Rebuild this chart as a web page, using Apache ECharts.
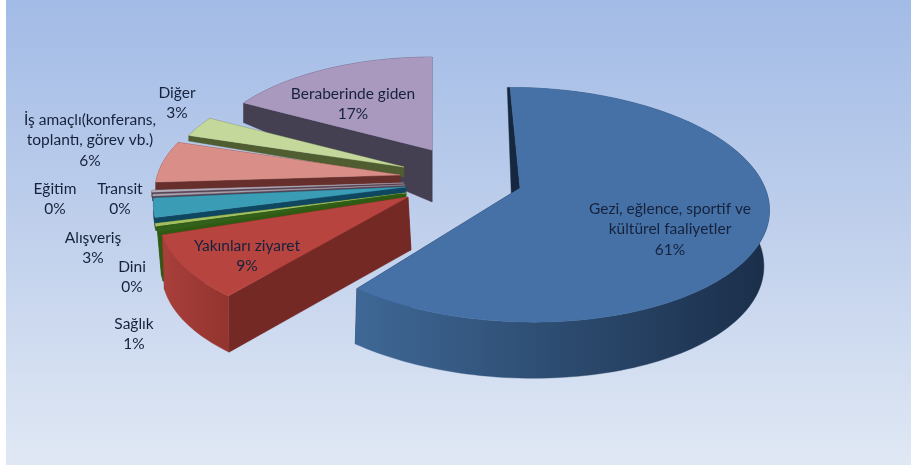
<!DOCTYPE html>
<html><head><meta charset="utf-8">
<style>html,body{margin:0;padding:0;background:#fff}#main{width:911px;height:470px;filter:blur(0.55px)}</style>
<script src="https://cdn.jsdelivr.net/npm/echarts@6/dist/echarts.min.js"></script>
</head><body><div id="main"></div>
<script>
// Data (clockwise from the top of the pie)
const categories = ['Gezi, eğlence, sportif ve\nkültürel faaliyetler','Yakınları ziyaret','Sağlık','Dini','Alışveriş','Transit','Eğitim','İş amaçlı(konferans,\ntoplantı, görev vb.)','Diğer','Beraberinde giden'];
const seriesValues = [60.8,9,0.7,0.4,2.6,0.25,0.25,5.9,3,17.1];

// Styling and projection of each slice
const topColors = ['#4571a7','#b7443f','#33601a','#a3bf62','#3b9cb6','#a9a3b2','#b3acb9','#d98f87','#c5d89c','#a999be'];
const wallColors = ['#16283f','#752925','#2e5a12','#2e5a12','#0f4660','#54404f','#54404f','#672f2c','#4f5d30','#453f52'];
const arcColors = [['#3f6896','#1a2e49'],['#a83f3b','#93342f'],['#2e5a12','#2e5a12'],['#2e5a12','#2e5a12'],['#0f4660','#0f4660'],['#54404f','#54404f'],['#54404f','#54404f'],['#672f2c','#672f2c'],['#4f5d30','#4f5d30'],['#453f52','#453f52']];
const apexX = [520,408,402,406,406,405,404,400,404,432];
const apexY = [188,197,194,193,187,185,183,175,167,150];
const radius = [0.995,0.98,0.98,1,1,1,1,0.97,0.94,0.91];
const depths = [52,53,48,4,8,5,5,8,10,52];
const wallShift = [-7,3,6,0,0,0,0,0,0,0];
const shear = [-11.4,8,0,0,0,0,0,0,0,0];
const radiusX = [0.985,1,1,1,1,1,1,1,1,1];
const labelX = [670,247,134,132,93,120,55,90,177,353];
const labelY = [229,256,334,277,248,199,199,140,103,104];
const RX = 250, RY = 115.5, P = 0.144;

const total = seriesValues.reduce((a,b)=>a+b,0);
const startAngle = [], endAngle = [];
seriesValues.reduce((acc,v,i)=>{startAngle[i]=acc/total*360;endAngle[i]=(acc+v)/total*360;return acc+v;},0);

function project(i,deg,rho){
  const t=deg*Math.PI/180, X=rho*radius[i]*radiusX[i]*Math.sin(t), Y=rho*radius[i]*Math.cos(t), s=1/(1+P*Y);
  return {x:apexX[i]+(RX*X+shear[i]*Y)*s, y:apexY[i]-RY*Y*s, Y};
}
function depthPoint(i,p){
  const D=depths[i], d=p.Y>0?D*Math.pow(1-p.Y,1.7):D*(1-0.08*p.Y);
  const k=p.Y>0?1-0.6*p.Y:1+p.Y;
  return [p.x+wallShift[i]*k, p.y+d];
}
function arc(i){
  const pts=[], a=startAngle[i], b=endAngle[i], n=Math.max(2,Math.ceil((b-a)/1.5));
  for(let k=0;k<=n;k++) pts.push(project(i,a+(b-a)*k/n,1));
  return pts;
}
function radialWall(i,deg){
  const o=project(i,0,0), e=project(i,deg,1);
  return [[o.x,o.y],[e.x,e.y],depthPoint(i,e),depthPoint(i,o)];
}
function renderSlice(params,api){
  const i=api.value(0), pts=arc(i), top=pts.map(p=>[p.x,p.y]), bottom=pts.map(p=>depthPoint(i,p)).reverse();
  const c=project(i,0,0);
  const poly=(points,fill)=>({type:'polygon',shape:{points},style:{fill,stroke:fill,lineWidth:0.4}});
  return {type:'group',children:[
    poly(radialWall(i,startAngle[i]),wallColors[i]),
    poly(radialWall(i,endAngle[i]),wallColors[i]),
    poly(top.concat(bottom),new echarts.graphic.LinearGradient(0,0,1,0,[{offset:0,color:arcColors[i][0]},{offset:1,color:arcColors[i][1]}])),
    poly([[c.x,c.y]].concat(top),topColors[i])
  ]};
}
function renderLabel(params,api){
  const i=api.value(0);
  return {type:'text',style:{x:labelX[i],y:labelY[i],text:categories[i]+'\n'+Math.round(seriesValues[i])+'%',
    fill:'#16223c',font:'15.5px Lato',lineHeight:20.5,align:'center',verticalAlign:'middle'}};
}
const backToFront=[9,8,7,6,5,4,3,2,1,0].map(i=>[i]);
const chart=echarts.init(document.getElementById('main'),null,{renderer:'canvas'});
chart.setOption({
  animation:false,
  graphic:[{type:'rect',z:-1,shape:{x:6,y:0,width:905,height:465},
    style:{fill:new echarts.graphic.LinearGradient(0,0,0,1,[{offset:0,color:'#a2bbe6'},{offset:0.5,color:'#c0d0ec'},{offset:1,color:'#e0e8f4'}])}}],
  series:[
    {type:'custom',coordinateSystem:'none',renderItem:renderSlice,data:backToFront,z:2,silent:true},
    {type:'custom',coordinateSystem:'none',renderItem:renderLabel,data:backToFront,z:5,silent:true}
  ]
});
</script></body></html>
